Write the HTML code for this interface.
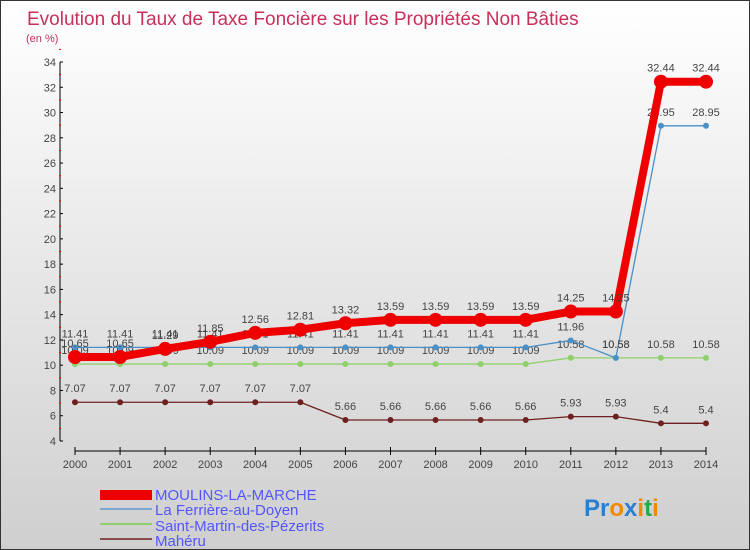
<!DOCTYPE html>
<html><head><meta charset="utf-8"><style>
body{margin:0}
#c{width:748px;height:548px;border:1px solid #333;background:linear-gradient(#ffffff,#cfcfcf);position:relative;font-family:"Liberation Sans",sans-serif;overflow:hidden}
text{font-family:"Liberation Sans",sans-serif}
</style></head><body>
<div id="c">
<svg id="s" width="748" height="548">
<text x="26" y="24" font-size="19" fill="#c8305a">Evolution du Taux de Taxe Foncière sur les Propriétés Non Bâties</text>
<text x="25" y="41" font-size="11" fill="#c8305a">(en %)</text>
<g id="axes"></g><g id="marks"></g>
<g>
<rect x="99" y="489" width="52" height="10" fill="#e00"/>
<text x="154" y="499" font-size="15" fill="#5555ff">MOULINS-LA-MARCHE</text>
<rect x="99" y="507" width="52" height="2" fill="#7aa8d0"/>
<text x="154" y="514" font-size="15" fill="#5555ff">La Ferrière-au-Doyen</text>
<rect x="99" y="522" width="52" height="2" fill="#8fd06a"/>
<text x="154" y="530" font-size="15" fill="#5555ff">Saint-Martin-des-Pézerits</text>
<rect x="99" y="537" width="52" height="2" fill="#8a4a4a"/>
<text x="154" y="545" font-size="15" fill="#5555ff">Mahéru</text>
</g>
<text x="583" y="515" font-size="24" font-weight="bold"><tspan fill="#2a7fd0">Pr</tspan><tspan fill="#f08a00">o</tspan><tspan fill="#2a7fd0">x</tspan><tspan fill="#f08a00">i</tspan><tspan fill="#2aa84a">t</tspan><tspan fill="#f08a00">i</tspan></text>
</svg></div>
<script>
const years=[2000,2001,2002,2003,2004,2005,2006,2007,2008,2009,2010,2011,2012,2013,2014];
const yTicks=[4,6,8,10,12,14,16,18,20,22,24,26,28,30,32,34];
const moulins=[10.65,10.65,11.29,11.85,12.56,12.81,13.32,13.59,13.59,13.59,13.59,14.25,14.25,32.44,32.44];
const ferriere=[11.41,11.41,11.41,11.41,11.41,11.41,11.41,11.41,11.41,11.41,11.41,11.96,10.58,28.95,28.95];
const saintMartin=[10.09,10.09,10.09,10.09,10.09,10.09,10.09,10.09,10.09,10.09,10.09,10.58,10.58,10.58,10.58];
const maheru=[7.07,7.07,7.07,7.07,7.07,7.07,5.66,5.66,5.66,5.66,5.66,5.93,5.93,5.4,5.4];
const NS='http://www.w3.org/2000/svg';
const X=i=>74+i*(631/(years.length-1));
const Y=v=>440-(v-4)*(379/30);
function mk(t,a,p){const e=document.createElementNS(NS,t);for(const k in a)e.setAttribute(k,a[k]);p.appendChild(e);return e;}
const ax=document.getElementById('axes'),mg=document.getElementById('marks');
const yl=mk('line',{x1:59,x2:59,y1:Y(34),y2:Y(4),stroke:'#000','stroke-width':1},ax);


yTicks.forEach(v=>{
 mk('line',{x1:59,x2:62,y1:Y(v),y2:Y(v),stroke:'#000'},ax);
 mk('line',{x1:58,x2:60,y1:Y(v+1),y2:Y(v+1),stroke:'#e00'},ax);
 const t=mk('text',{x:55,y:Y(v)+4,'font-size':11,fill:'#444','text-anchor':'end'},ax);t.textContent=v;
 
 
});
const xl=mk('line',{x1:X(0),x2:X(years.length-1),y1:450,y2:450,stroke:'#000'},ax);


years.forEach((y,i)=>{
 mk('line',{x1:X(i),x2:X(i),y1:446,y2:454,stroke:'#000'},ax);
 const t=mk('text',{x:X(i),y:467,'font-size':11,fill:'#444','text-anchor':'middle'},ax);t.textContent=y;
 
 
});
function series(d,col,w,r,name){
 const g=mk('g',{},mg);
 
 
 mk('polyline',{points:d.map((v,i)=>X(i)+','+Y(v)).join(' '),fill:'none',stroke:col,'stroke-width':w,'stroke-linejoin':'round'},g);
 d.forEach((v,i)=>{
  const c=mk('circle',{cx:X(i),cy:Y(v),r:r,fill:col},g);
  
  
  const t=mk('text',{x:X(i),y:Y(v)-10,'font-size':11,fill:'#444','text-anchor':'middle'},g);t.textContent=v;
  
  
 });
}
series(maheru,'#6e2020',1.3,3,'maheru');
series(saintMartin,'#8fd06a',1.3,3,'saint-martin');
series(ferriere,'#4a90c8',1.3,3,'ferriere');
series(moulins,'#ee0000',8,7,'moulins');
</script></body></html>
